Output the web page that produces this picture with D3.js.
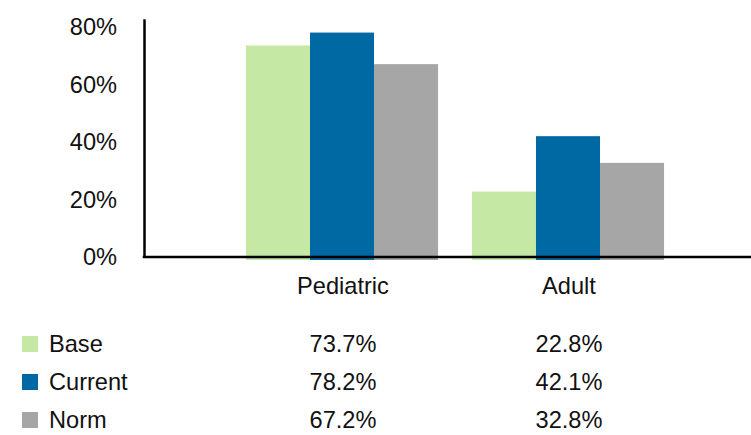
<!DOCTYPE html>
<html>
<head>
<meta charset="utf-8">
<script src="https://cdn.jsdelivr.net/npm/d3@7"></script>
<style>
  html, body { margin: 0; padding: 0; background: #fff; }
  svg { display: block; font-family: "Liberation Sans", Arial, sans-serif; }
</style>
</head>
<body>
<svg id="chart" width="751" height="435"></svg>
<script>
// Share of patients by group
const categories = ["Pediatric", "Adult"];
const seriesNames = ["Base", "Current", "Norm"];
const baseValues = [0.737, 0.228];
const currentValues = [0.782, 0.421];
const normValues = [0.672, 0.328];
const yTicks = [0, 0.2, 0.4, 0.6, 0.8];
const seriesColors = ["#c5e8a5", "#0068a3", "#a6a6a6"];

const seriesValues = [baseValues, currentValues, normValues];

const svg = d3.select("#chart");
const fontSize = 23.6;

const axisX = 144;
const x = d3.scaleBand()
  .domain(categories)
  .range([229, 681])
  .paddingInner(0.15)
  .paddingOuter(0.075);

const xSeries = d3.scaleBand()
  .domain(seriesNames)
  .range([0, x.bandwidth()])
  .padding(0);

const y = d3.scaleLinear()
  .domain([0, 0.83])
  .range([257, 18.8]);

const color = d3.scaleOrdinal().domain(seriesNames).range(seriesColors);

// Bars (slightly overhang the baseline)
const overhang = 3;
const groups = svg.append("g").selectAll("g")
  .data(categories)
  .join("g")
  .attr("transform", d => `translate(${x(d)},0)`);

groups.selectAll("rect")
  .data((c, i) => seriesNames.map((s, j) => ({ series: s, value: seriesValues[j][i] })))
  .join("rect")
  .attr("x", d => xSeries(d.series))
  .attr("width", xSeries.bandwidth())
  .attr("y", d => y(d.value))
  .attr("height", d => y(0) - y(d.value) + overhang)
  .attr("fill", d => color(d.series));

// Y axis
const yAxis = svg.append("g")
  .attr("transform", `translate(${axisX},0)`)
  .call(d3.axisLeft(y)
    .tickValues(yTicks)
    .tickFormat(d3.format(".0%"))
    .tickSize(0)
    .tickPadding(27));
yAxis.select(".domain").attr("stroke", "#000").attr("stroke-width", 2.5);
yAxis.selectAll("text")
  .attr("font-size", fontSize)
  .attr("font-family", "Liberation Sans, Arial, sans-serif")
  .attr("fill", "#111");

// Baseline across the plot
svg.append("line")
  .attr("x1", axisX - 1.25)
  .attr("x2", 751)
  .attr("y1", y(0))
  .attr("y2", y(0))
  .attr("stroke", "#000")
  .attr("stroke-width", 2.5);

// Category labels
svg.append("g").selectAll("text")
  .data(categories)
  .join("text")
  .attr("x", d => x(d) + x.bandwidth() / 2 + 1)
  .attr("y", 294)
  .attr("text-anchor", "middle")
  .attr("font-size", fontSize)
  .attr("fill", "#111")
  .text(d => d);

// Data table with legend keys
const rowY = d3.scalePoint().domain(seriesNames).range([352, 428]);
const fmt = d3.format(".1%");

const rows = svg.append("g").selectAll("g")
  .data(seriesNames)
  .join("g");

rows.append("rect")
  .attr("x", 22)
  .attr("y", d => rowY(d) - 16)
  .attr("width", 16)
  .attr("height", 16)
  .attr("fill", d => color(d));

rows.append("text")
  .attr("x", 49)
  .attr("y", d => rowY(d))
  .attr("font-size", fontSize)
  .attr("fill", "#111")
  .text(d => d);

rows.each(function(s, j) {
  d3.select(this).selectAll("text.val")
    .data(categories.map((c, i) => ({ c, v: seriesValues[j][i] })))
    .join("text")
    .attr("class", "val")
    .attr("x", d => x(d.c) + x.bandwidth() / 2 + 1)
    .attr("y", rowY(s))
    .attr("text-anchor", "middle")
    .attr("font-size", fontSize)
    .attr("fill", "#111")
    .text(d => fmt(d.v));
});
</script>
</body>
</html>
